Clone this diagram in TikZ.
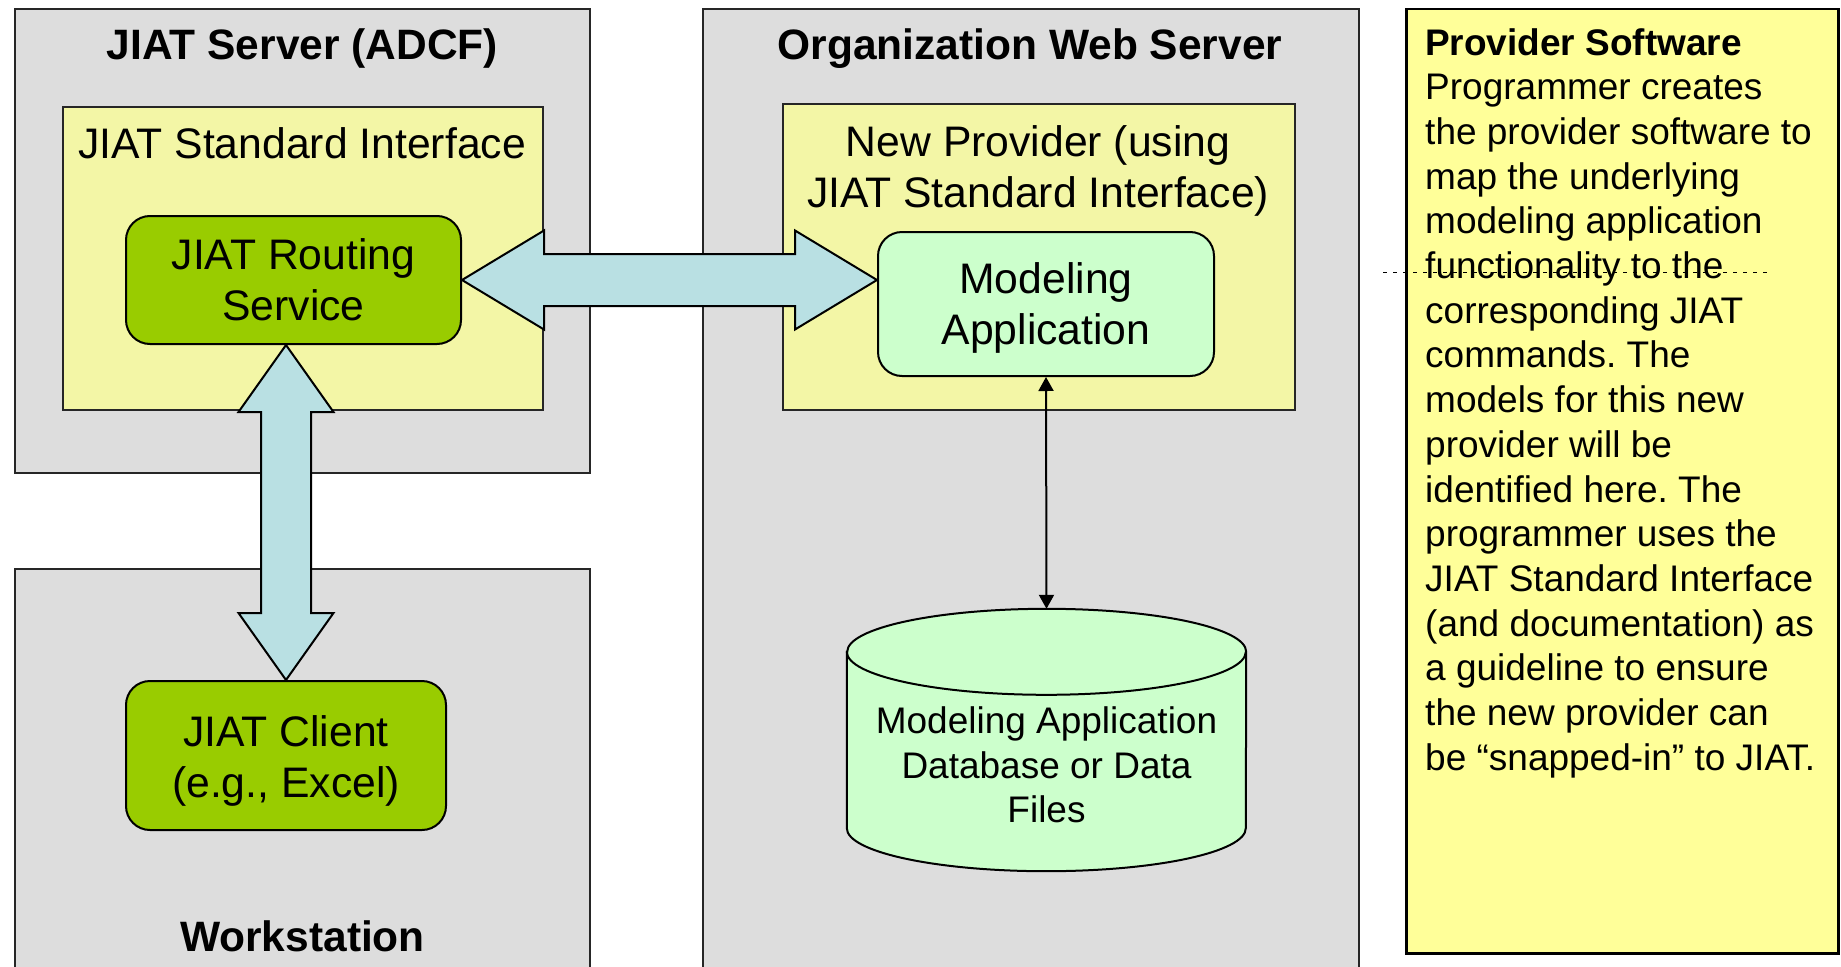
\documentclass[tikz,border=0pt]{standalone}
\usepackage{fontspec}
\setmainfont{Liberation Sans}
\usetikzlibrary{arrows.meta,positioning,calc}
\definecolor{hostgray}{HTML}{DDDDDD}
\definecolor{ifyellow}{HTML}{F3F6A6}
\definecolor{noteyellow}{HTML}{FFFF99}
\definecolor{svcgreen}{HTML}{99CC00}
\definecolor{appgreen}{HTML}{CCFFCC}
\definecolor{pipeblue}{HTML}{B9E0E3}
\frenchspacing

\begin{document}
\begin{tikzpicture}[x=1pt,y=1pt,
    every node/.style={font=\fontsize{42.7}{51}\selectfont},
    host/.style={draw=black!85,line width=2pt,fill=hostgray,anchor=north west,inner sep=0},
    iface/.style={draw=black!85,line width=2pt,fill=ifyellow,anchor=north west,inner sep=0},
    service/.style={draw=black,line width=2pt,rounded corners=24pt,align=center},
    title/.style={font=\bfseries\fontsize{42.5}{51}\selectfont},
    small/.style={font=\fontsize{37}{44.7}\selectfont},
    pipe/.style={draw=black,line width=2pt,fill=pipeblue,line join=miter}]
    \useasboundingbox (0,0) rectangle (1841,-966);
    % hosts
    \node[host,minimum width=575pt,minimum height=464pt] (server) at (14,-8) {};
    \node[host,minimum width=575pt,minimum height=420pt] (work) at (14,-568) {};
    \node[host,minimum width=656pt,minimum height=980pt] (web) at (702,-8) {};
    \node[title] (servertitle) at ($(server.north)+(0,-41)$) {JIAT Server (ADCF)};
    \node[title] (worktitle) at ($(work.north)+(0,-368)$) {Workstation};
    \node[title] (webtitle) at (1030,-49) {Organization Web Server};
    % interfaces
    \node[iface,minimum width=480pt,minimum height=303pt] (stdif) at (62,-106) {};
    \node (stdiftitle) at (302,-143) {JIAT Standard Interface};
    \node[iface,minimum width=512pt,minimum height=306pt] (newprov) at (782,-103) {};
    \node[align=center] (newprovtitle) at (1038,-171) {New Provider (using\\JIAT Standard Interface)};
    \node[service,fill=svcgreen,minimum width=335pt,minimum height=128pt] (routing) at (293.5,-280) {JIAT Routing\\Service};
    \node[service,fill=svcgreen,minimum width=320pt,minimum height=149pt,
        label={[yshift=-5pt,align=center]center:JIAT Client\\(e.g., Excel)}] (client) at (286,-755.5) {};
    \node[service,fill=appgreen,minimum width=336pt,minimum height=144pt,
        label={[yshift=-4pt,align=center]center:Modeling\\Application}] (modapp) at (1046,-304) {};
    % data store
    \node[minimum width=399pt,minimum height=262pt,inner sep=0] (db) at (1046.5,-740) {};
    \draw[line width=2pt,fill=appgreen] ([yshift=-43pt]db.north west) -- ([yshift=43pt]db.south west)
        arc[start angle=180,end angle=360,x radius=199.5pt,y radius=43pt]
        -- ([yshift=-43pt]db.north east)
        arc[start angle=0,end angle=180,x radius=199.5pt,y radius=43pt] -- cycle;
    \draw[line width=2pt] ([yshift=-43pt]db.north west) arc[start angle=180,end angle=360,x radius=199.5pt,y radius=43pt];
    \node[small,align=center] (dbtext) at ([yshift=-25pt]db.center) {Modeling Application\\Database or Data\\Files};
    % note
    \node[draw=black,line width=2.5pt,fill=noteyellow,anchor=north west,minimum width=432pt,minimum height=944pt] (note) at (1405,-8) {};
    \node[small,align=left,anchor=north west,inner sep=0] (notetext) at (1425,-28) {\textbf{Provider Software}\\
        Programmer creates\\the provider software to\\map the underlying\\modeling application\\
        functionality to the\\corresponding JIAT\\commands. The\\models for this new\\
        provider will be\\identified here. The\\programmer uses the\\JIAT Standard Interface\\
        (and documentation) as\\a guideline to ensure\\the new provider can\\be “snapped-in” to JIAT.};
    \draw[line width=1pt,dash pattern=on 4pt off 6pt] ([xshift=-22pt,yshift=-264pt]note.north west) -- ([xshift=367pt,yshift=-264pt]note.north west);
    % connectors
    \draw[pipe] (routing.east) -- ++(82,49.5) -- ++(0,-23.5)
        -- ($(modapp.west |- routing.east)+(-82,26)$) -- ++(0,23.5)
        -- (modapp.west |- routing.east) -- ++(-82,-49.5) -- ++(0,23.5)
        -- ($(routing.east)+(82,-26)$) -- ++(0,-23.5) -- cycle;
    \draw[pipe] (routing.south -| client.north) -- ++(-47.5,-67) -- ++(22.5,0)
        -- ($(client.north)+(-25,67)$) -- ++(-22.5,0)
        -- (client.north) -- ++(47.5,67) -- ++(-22.5,0)
        -- ($(routing.south -| client.north)+(25,-67)$) -- ++(22.5,0) -- cycle;
    \draw[{Triangle[length=14pt,width=15pt]}-{Triangle[length=14pt,width=15pt]},line width=2pt] (modapp.south) -- (db.north);
\end{tikzpicture}
\end{document}
